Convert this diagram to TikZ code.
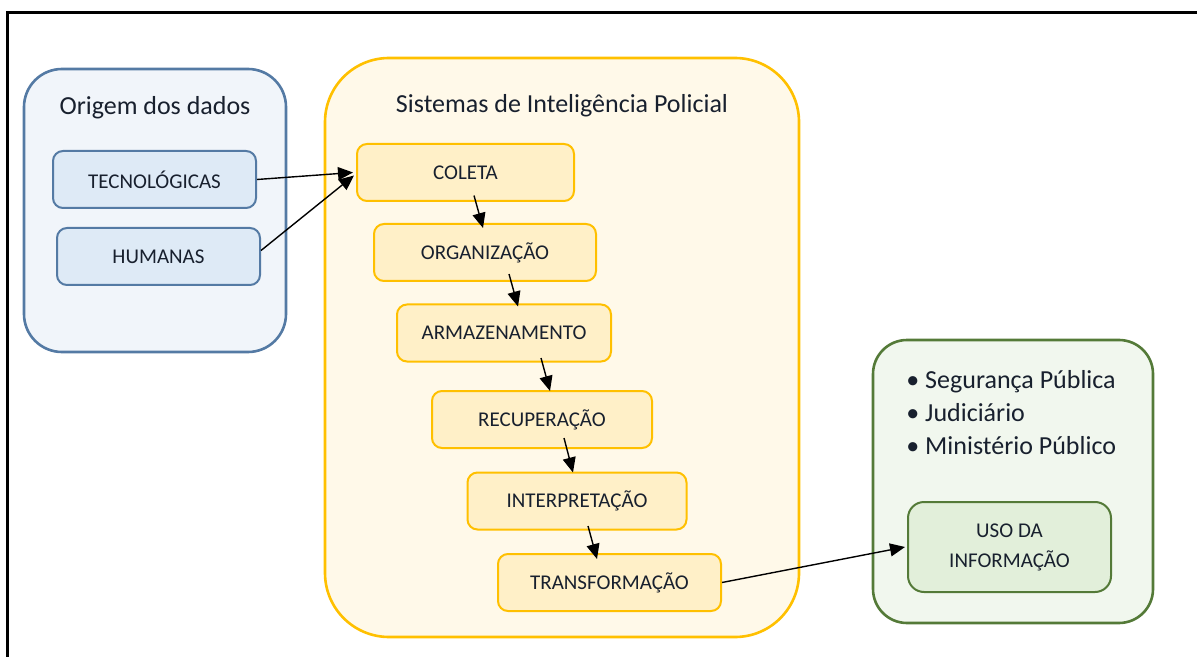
\documentclass[tikz,border=0pt]{standalone}
\usepackage{fontspec}
\setmainfont{Carlito}
\usetikzlibrary{positioning}
\usetikzlibrary{arrows.meta}
\definecolor{txt}{HTML}{18202E}
\definecolor{blueline}{RGB}{84,122,164}
\definecolor{bluefill}{HTML}{DEEAF6}
\definecolor{bluebg}{HTML}{F1F5FA}
\definecolor{goldline}{HTML}{FFC000}
\definecolor{goldfill}{HTML}{FFF0C8}
\definecolor{goldbg}{HTML}{FFF9E9}
\definecolor{greenline}{RGB}{84,122,56}
\definecolor{greenfill}{HTML}{E2EFDA}
\definecolor{greenbg}{HTML}{F1F7EE}
\tikzstyle{groupbox} = [draw, rectangle, line width=1.3pt, inner sep=0pt]
\tikzstyle{block} = [draw, rectangle, rounded corners=5pt, line width=1pt, minimum height=28.5pt, text=txt, font=\fontsize{10.5}{12.5}\selectfont, inner sep=0pt]
\tikzstyle{heading} = [text=txt, font=\fontsize{13}{15}\selectfont, anchor=base, inner sep=0pt]
\tikzstyle{listitem} = [text=txt, font=\fontsize{13}{15}\selectfont, anchor=base west, inner sep=0pt]
\tikzstyle{flow} = [-{Triangle[length=7.5pt,width=6.5pt]}, line width=0.7pt]

\begin{document}
\begin{tikzpicture}[x=0.5pt,y=-0.5pt]
    \useasboundingbox (0,0) rectangle (1197,657);
    \draw [line width=1.5pt] (1197,13) -- (7,13) -- (7,657);

    % origem dos dados
    \node [groupbox, draw=blueline, fill=bluebg, rounded corners=19pt, minimum width=131pt, minimum height=141.5pt] (origem) at (155,210.5) {};
    \node [heading] (origemtitle) at (155,115) {Origem dos dados};
    \node [block, draw=blueline, fill=bluefill, minimum width=101.5pt] (tecno) at (154.5,179.5) {TECNOLÓGICAS};
    \node [block, draw=blueline, fill=bluefill, minimum width=101.5pt] (humanas) at (158.5,256.5) {HUMANAS};

    % sistemas de inteligencia
    \node [groupbox, draw=goldline, fill=goldbg, rounded corners=32pt, minimum width=237pt, minimum height=289.5pt] (sistemas) at (562,347.5) {};
    \node [heading] (sistemastitle) at (562,113) {Sistemas de Inteligência Policial};
    \node [block, draw=goldline, fill=goldfill, minimum width=108.5pt] (coleta) at (465.5,172.5) {COLETA};
    \node [block, draw=goldline, fill=goldfill, minimum width=111pt] (organiz) at (485,252.5) {ORGANIZAÇÃO};
    \node [block, draw=goldline, fill=goldfill, minimum width=107pt] (armaz) at (504,333) {ARMAZENAMENTO};
    \node [block, draw=goldline, fill=goldfill, minimum width=110pt] (recup) at (542,419.5) {RECUPERAÇÃO};
    \node [block, draw=goldline, fill=goldfill, minimum width=109.5pt] (interp) at (577,501) {INTERPRETAÇÃO};
    \node [block, draw=goldline, fill=goldfill, minimum width=111.5pt] (transf) at (609.5,582.5) {TRANSFORMAÇÃO};

    % uso da informacao
    \node [groupbox, draw=greenline, fill=greenbg, rounded corners=17pt, minimum width=140pt, minimum height=141.5pt] (uso) at (1013,481.5) {};
    \node [listitem] (seguranca) at (906,388) {• Segurança Pública};
    \node [listitem] (judiciario) at (906,421) {• Judiciário};
    \node [listitem] (ministerio) at (906,454) {• Ministério Público};
    \node [block, draw=greenline, fill=greenfill, rounded corners=8pt, minimum width=101.5pt, minimum height=45pt, align=center] (usoinfo) at (1009.5,547) {USO DA\\[2.5pt]INFORMAÇÃO};

    \draw [flow] (tecno.east) -- ([shift={(-3,0)}]coleta.west);
    \draw [flow] ([shift={(0,-6)}]humanas.east) -- ([shift={(-2,3)}]coleta.west);
    \draw [flow] ([shift={(8.5,-6.5)}]coleta.south) -- ([shift={(-2,5)}]organiz.north);
    \draw [flow] ([shift={(24,-8)}]organiz.south) -- ([shift={(14,3)}]armaz.north);
    \draw [flow] ([shift={(37,-4.5)}]armaz.south) -- ([shift={(8,1)}]recup.north);
    \draw [flow] ([shift={(22,-11)}]recup.south) -- ([shift={(-4,1)}]interp.north);
    \draw [flow] ([shift={(11,-4.5)}]interp.south) -- ([shift={(-12.5,6)}]transf.north);
    \draw [flow] (transf.east) -- ([shift={(-2,0)}]usoinfo.west);
\end{tikzpicture}
\end{document}
